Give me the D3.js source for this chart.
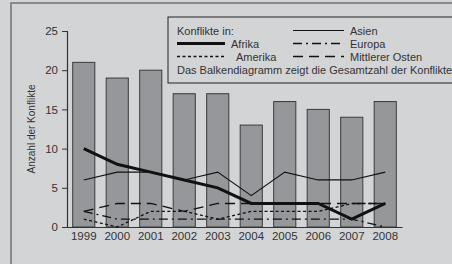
<!DOCTYPE html>
<html>
<head>
<meta charset="utf-8">
<script src="https://cdn.jsdelivr.net/npm/d3@7"></script>
<style>
  body { margin: 0; background: #d3d4d6; }
  svg { display: block; font-family: "Liberation Sans", Arial, sans-serif; }
</style>
</head>
<body>
<div id="chart"></div>
<script>
// Data
const years = ["1999", "2000", "2001", "2002", "2003", "2004", "2005", "2006", "2007", "2008"];
const totals = [21, 19, 20, 17, 17, 13, 16, 15, 14, 16];
const afrika = [10, 8, 7, 6, 5, 3, 3, 3, 1, 3];
const asien = [6, 7, 7, 6, 7, 4, 7, 6, 6, 7];
const amerika = [1, 0, 2, 2, 1, 2, 2, 2, 3, 3];
const europa = [2, 1, 1, 1, 1, 1, 1, 1, 1, 0];
const mittlererOsten = [2, 3, 3, 2, 3, 3, 3, 3, 3, 3];
const yTicks = [0, 5, 10, 15, 20, 25];

const series = [
  { name: "Afrika", values: afrika, width: 3, dash: null },
  { name: "Asien", values: asien, width: 1.2, dash: null },
  { name: "Amerika", values: amerika, width: 1.3, dash: "3,2.5" },
  { name: "Europa", values: europa, width: 1.3, dash: "9,4,2,4" },
  { name: "Mittlerer Osten", values: mittlererOsten, width: 1.3, dash: "10,6" }
];

const W = 452, H = 264;
const svg = d3.select("#chart").append("svg")
    .attr("width", W)
    .attr("height", H);

// outer frame
svg.append("rect")
    .attr("x", 11).attr("y", 3)
    .attr("width", W).attr("height", H)
    .attr("fill", "#d3d4d6")
    .attr("stroke", "#6f7072")
    .attr("stroke-width", 1.5);

const x = d3.scaleBand()
    .domain(years)
    .range([67, 402])
    .paddingInner(0.34)
    .paddingOuter(0.17);

const y = d3.scaleLinear()
    .domain([0, 25])
    .range([227, 31]);

// Bars
svg.selectAll(".bar")
    .data(years)
    .enter()
    .append("rect")
    .attr("class", "bar")
    .attr("x", d => x(d))
    .attr("y", (d, i) => y(totals[i]))
    .attr("width", x.bandwidth())
    .attr("height", (d, i) => y(0) - y(totals[i]))
    .attr("fill", "#96979b")
    .attr("stroke", "#3a3a3a")
    .attr("stroke-width", 1);

// Y axis
const yAxis = svg.append("g")
    .attr("transform", "translate(67,0)")
    .call(d3.axisLeft(y).tickValues(yTicks).tickSize(5).tickPadding(4));
yAxis.select(".domain").attr("stroke", "#333").attr("stroke-width", 1.2);
yAxis.selectAll(".tick line").attr("stroke", "#333");
yAxis.selectAll("text").attr("fill", "#333").style("font-size", "11.5px");

// X axis
const xAxis = svg.append("g")
    .attr("transform", "translate(0,227)")
    .call(d3.axisBottom(x).tickSize(0).tickPadding(5));
xAxis.select(".domain").attr("stroke", "#333").attr("stroke-width", 1.2);
xAxis.selectAll("text").attr("fill", "#333").style("font-size", "11.5px");

// Axis title
svg.append("text")
    .attr("transform", "translate(35,129) rotate(-90)")
    .attr("text-anchor", "middle")
    .attr("fill", "#333")
    .style("font-size", "10px")
    .text("Anzahl der Konflikte");

// Lines
const line = d3.line()
    .x((d, i) => x(years[i]) + x.bandwidth() / 2)
    .y(d => y(d));

series.forEach(s => {
    svg.append("path")
        .datum(s.values)
        .attr("d", line)
        .attr("fill", "none")
        .attr("stroke", "#111")
        .attr("stroke-width", s.width)
        .attr("stroke-dasharray", s.dash);
});

// Legend
const lg = svg.append("g");
lg.append("rect")
    .attr("x", 168).attr("y", 17)
    .attr("width", 300).attr("height", 66)
    .attr("fill", "#d3d4d6")
    .attr("stroke", "#222")
    .attr("stroke-width", 1);

const legendText = (tx, ty, t) => lg.append("text")
    .attr("x", tx).attr("y", ty)
    .attr("fill", "#333")
    .style("font-size", "11px")
    .text(t);

legendText(177, 34.5, "Konflikte in:");

const legendItems = [
    { s: series[0], x0: 177, x1: 225, tx: 231, row: 1 },
    { s: series[2], x0: 177, x1: 225, tx: 236, row: 2 },
    { s: series[1], x0: 293, x1: 344, tx: 350, row: 0 },
    { s: series[3], x0: 293, x1: 344, tx: 350, row: 1 },
    { s: series[4], x0: 293, x1: 344, tx: 350, row: 2 }
];
legendItems.forEach(it => {
    const cy = 30.5 + it.row * 13;
    lg.append("line")
        .attr("x1", it.x0).attr("x2", it.x1)
        .attr("y1", cy).attr("y2", cy)
        .attr("stroke", "#111")
        .attr("stroke-width", it.s.width)
        .attr("stroke-dasharray", it.s.dash);
    legendText(it.tx, cy + 4, it.s.name);
});

legendText(177, 73.5, "Das Balkendiagramm zeigt die Gesamtzahl der Konflikte");
</script>
</body>
</html>
